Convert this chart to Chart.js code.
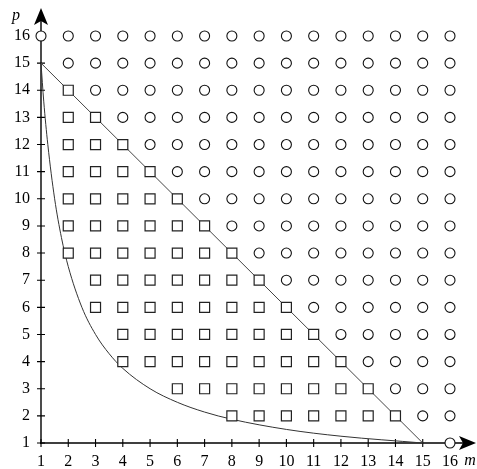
<!DOCTYPE html>
<html><head><meta charset="utf-8">
<script src="https://cdn.jsdelivr.net/npm/chart.js@4"></script>
<style>html,body{margin:0;padding:0;background:#fff}canvas{display:block}</style>
</head><body>
<canvas id="c" width="477" height="469"></canvas>
<script>
// ---- data ----
const tickValues = [1,2,3,4,5,6,7,8,9,10,11,12,13,14,15,16];
const circleColumns = [1,2,3,4,5,6,7,8,9,10,11,12,13,14,15,16];
const circleLowP    = [16,15,14,13,12,11,10,9,8,7,6,5,4,3,2,1];
const circleHighP   = [16,16,16,16,16,16,16,16,16,16,16,16,16,16,16,16];
const squareColumns = [2,3,4,5,6,7,8,9,10,11,12,13,14];
const squareLowP    = [8,6,4,4,3,3,2,2,2,2,2,2,2];
const squareHighP   = [14,13,12,11,10,9,8,7,6,5,4,3,2];
const diagonalM = [1,15];
const diagonalP = [15,1];
const curveM = [1,1.1,1.25,1.5,1.75,2,2.5,3,3.5,4,5,6,7,8,10,12,15];
const curveP = [15,13.6,12,10,8.57,7.5,6,5,4.29,3.75,3,2.5,2.14,1.875,1.5,1.25,1];
const xTitle = 'm', yTitle = 'p';

function expand(cols, lo, hi){
  const pts=[];
  cols.forEach((m,i)=>{ for(let p=lo[i]; p<=hi[i]; p++) pts.push({x:m,y:p}); });
  return pts;
}
const circles = expand(circleColumns, circleLowP, circleHighP);
const squares = expand(squareColumns, squareLowP, squareHighP);
const diag = diagonalM.map((m,i)=>({x:m,y:diagonalP[i]}));
const curve = curveM.map((m,i)=>({x:m,y:curveP[i]}));

const FONT = '"Liberation Serif", "DejaVu Serif", serif';

function arrow(ctx, tx, ty, dir){
  const L=17, W=7, N=4;
  ctx.beginPath();
  if(dir==='up'){
    ctx.moveTo(tx,ty); ctx.lineTo(tx+W,ty+L); ctx.lineTo(tx,ty+L-N); ctx.lineTo(tx-W,ty+L);
  } else {
    ctx.moveTo(tx,ty); ctx.lineTo(tx-L,ty-W); ctx.lineTo(tx-L+N,ty); ctx.lineTo(tx-L,ty+W);
  }
  ctx.closePath(); ctx.fill();
}

const axesPlugin = {
  id:'axes',
  beforeDatasetsDraw(chart){
    const ctx=chart.ctx, xs=chart.scales.x, ys=chart.scales.y;
    const x0=xs.getPixelForValue(1), y0=ys.getPixelForValue(1);
    ctx.save();
    ctx.strokeStyle='#000'; ctx.fillStyle='#000'; ctx.lineWidth=1.4;
    ctx.beginPath();
    ctx.moveTo(x0-1, y0); ctx.lineTo(470, y0);
    ctx.moveTo(x0, y0+1); ctx.lineTo(x0, 14);
    ctx.stroke();
    ctx.lineWidth=1.1;
    ctx.beginPath();
    tickValues.forEach(v=>{
      const px=xs.getPixelForValue(v), py=ys.getPixelForValue(v);
      ctx.moveTo(px,y0-4); ctx.lineTo(px,y0+4);
      ctx.moveTo(x0-4,py); ctx.lineTo(x0+4,py);
    });
    ctx.stroke();
    arrow(ctx, x0, 8, 'up');
    arrow(ctx, 476, y0, 'right');
    ctx.restore();
  },
  afterDraw(chart){
    const ctx=chart.ctx;
    ctx.save();
    ctx.fillStyle='#000';
    ctx.font='italic 16px '+FONT;
    ctx.textAlign='center'; ctx.textBaseline='alphabetic';
    ctx.fillText(xTitle, 470, 465);
    ctx.fillText(yTitle, 16, 20);
    ctx.restore();
  }
};

new Chart(document.getElementById('c'), {
  type:'scatter',
  data:{datasets:[
    {data:circles, clip:false, pointStyle:'circle', pointRadius:5, borderColor:'#111', backgroundColor:'#fff', borderWidth:1.1, showLine:false},
    {data:squares, clip:false, pointStyle:'rect', pointRadius:7.07, borderColor:'#222', backgroundColor:'#fff', borderWidth:1.2, showLine:false},
    {data:diag, clip:false, showLine:true, pointRadius:0, borderColor:'#444', borderWidth:1, fill:false},
    {data:curve, clip:false, showLine:true, pointRadius:0, borderColor:'#333', borderWidth:1, fill:false, cubicInterpolationMode:'monotone'}
  ]},
  options:{
    responsive:false, animation:false, events:[],
    layout:{padding:{left:0,right:27,top:36,bottom:0}},
    plugins:{legend:{display:false}, tooltip:{enabled:false}},
    scales:{
      x:{type:'linear', min:1, max:16, afterFit(s){s.height=26;},
         grid:{display:false, drawTicks:false}, border:{display:false},
         afterBuildTicks(s){s.ticks=tickValues.map(v=>({value:v}));},
         ticks:{padding:9, color:'#000', font:{family:FONT, size:16}, autoSkip:false, maxRotation:0}},
      y:{type:'linear', min:1, max:16, afterFit(s){s.width=41;},
         grid:{display:false, drawTicks:false}, border:{display:false},
         afterBuildTicks(s){s.ticks=tickValues.map(v=>({value:v}));},
         ticks:{padding:11, color:'#000', font:{family:FONT, size:16}, autoSkip:false}}
    }
  },
  plugins:[axesPlugin]
});
</script>
</body></html>
